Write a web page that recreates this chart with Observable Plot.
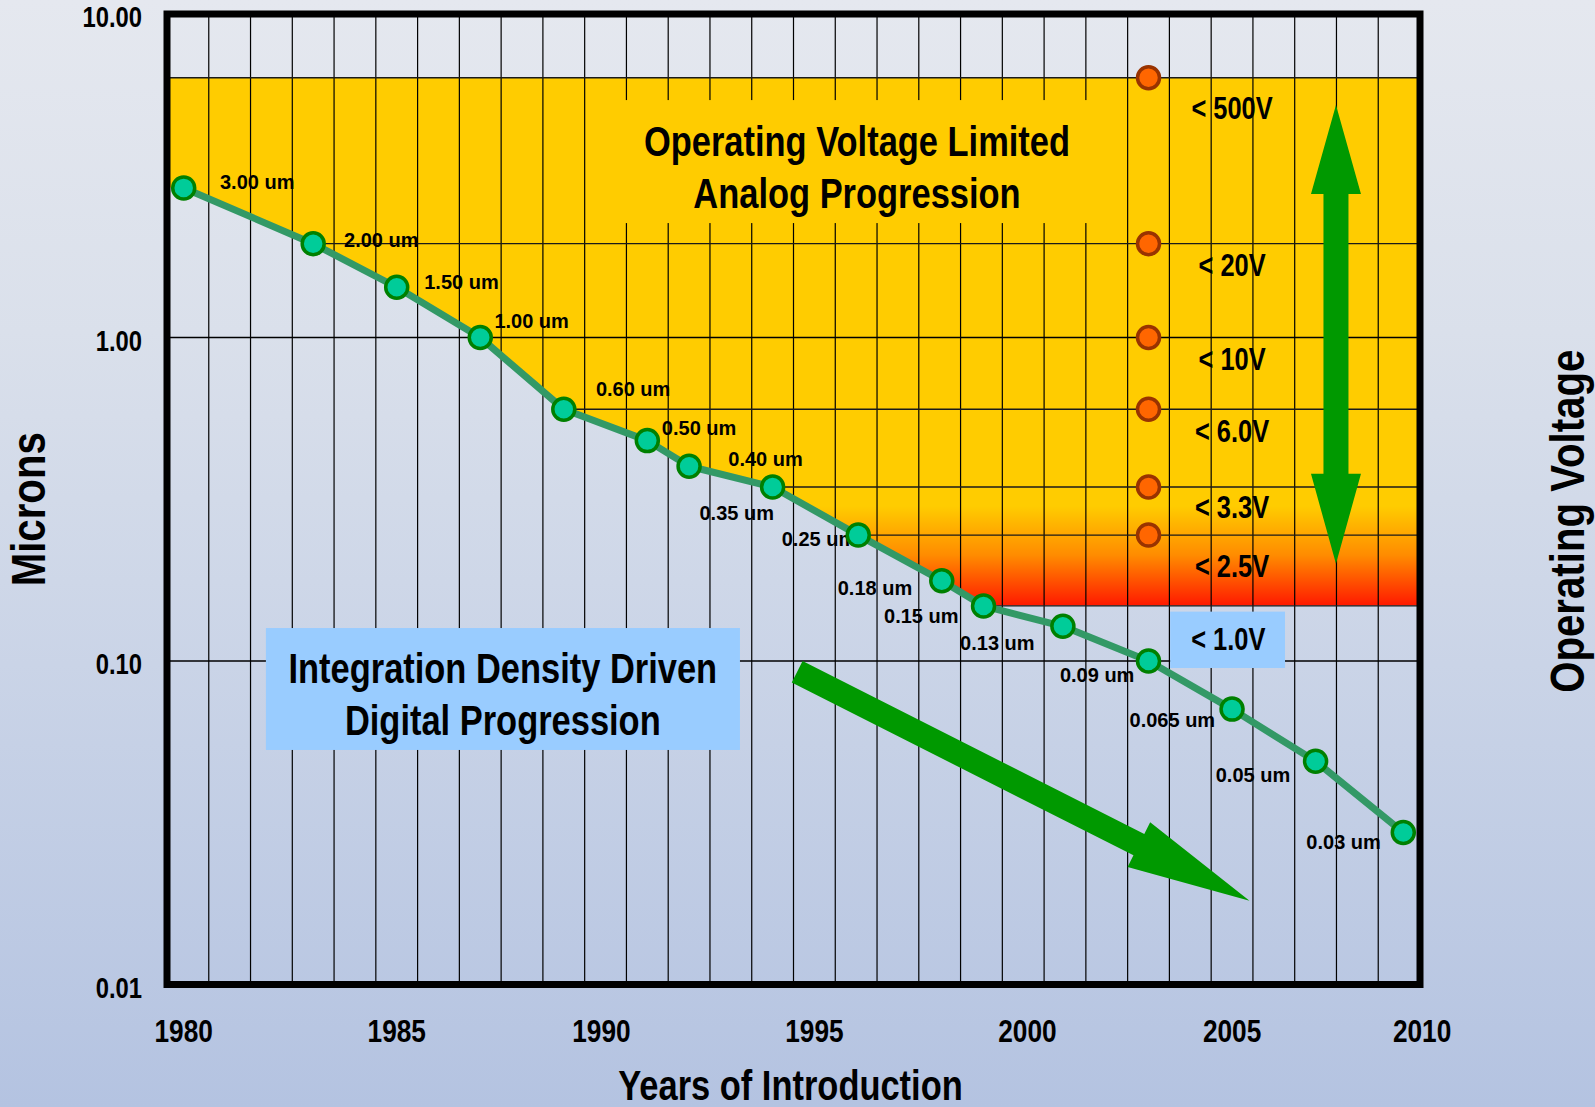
<!DOCTYPE html>
<html>
<head>
<meta charset="utf-8">
<script src="https://cdn.jsdelivr.net/npm/d3@7"></script>
<script src="https://cdn.jsdelivr.net/npm/@observablehq/plot@0.6"></script>
<style>
  html, body { margin: 0; padding: 0; }
  body {
    width: 1595px; height: 1107px; overflow: hidden;
    background: linear-gradient(180deg, #e5e8ef 0%, #dae0eb 30%, #cad4e7 60%, #b4c3e1 100%);
  }
  #chart svg { display: block; }
</style>
</head>
<body>
<div id="chart"></div>
<script>
// ---------------- data ----------------
const nodeYears   = [1980.4, 1983.5, 1985.5, 1987.5, 1989.5, 1991.5, 1992.5, 1994.5, 1996.55, 1998.55, 1999.55, 2001.45, 2003.5, 2005.5, 2007.5, 2009.6];
const nodeMicrons = [2.9, 1.95, 1.43, 1.0, 0.6, 0.48, 0.40, 0.345, 0.245, 0.177, 0.148, 0.128, 0.100, 0.071, 0.049, 0.0295];

const labelText    = ["3.00 um","2.00 um","1.50 um","1.00 um","0.60 um","0.50 um","0.40 um","0.35 um","0.25 um","0.18 um","0.15 um","0.13 um","0.09 um","0.065 um","0.05 um","0.03 um"];
const labelYears   = [1982.16, 1985.13, 1987.05, 1988.73, 1991.16, 1992.74, 1994.33, 1993.64, 1995.61, 1996.95, 1998.06, 1999.88, 2002.27, 2004.07, 2006.0, 2008.17];
const labelMicrons = [3.02, 2.00, 1.48, 1.117, 0.689, 0.524, 0.42, 0.285, 0.2375, 0.168, 0.1375, 0.1133, 0.0902, 0.0654, 0.0443, 0.0275];

const voltageLevels      = [6.35, 1.95, 1.0, 0.6, 0.345, 0.245];   // orange dots / band limits
const voltageFloor       = 0.148;                                   // bottom of the red band
const voltageDotYear     = 2003.5;
const voltageText        = ["< 500V", "< 20V", "< 10V", "< 6.0V", "< 3.3V", "< 2.5V"];
const voltageTextMicrons = [5.10, 1.66, 0.849, 0.51, 0.296, 0.195];
const voltageTextYear    = 2005.5;

const lowVoltageText    = "< 1.0V";
const lowVoltagePos     = [2005.41, 0.1157];
const lowVoltageBox     = {x1: 2004.03, x2: 2006.78, y1: 0.0948, y2: 0.1416};

const analogText   = "Operating Voltage Limited\nAnalog Progression";
const analogPos    = [1996.52, 3.41];
const analogBox    = {x1: 1990.5, x2: 2002.5, y1: 2.25, y2: 5.40};
const digitalText  = "Integration Density Driven\nDigital Progression";
const digitalPos   = [1988.04, 0.0801];
const digitalBox   = {x1: 1982.38, x2: 1993.73, y1: 0.0529, y2: 0.126};

const digitalArrowFrom = [1995.1, 0.0923];
const digitalArrowTo   = [2005.93, 0.0181];
const voltageArrowYear = 2008.0;
const voltageArrowEnds = [5.21, 0.199];
const gradientMicrons  = [0.30, 0.212, 0.148];   // yellow -> orange -> red

const xDomain = [1980, 2010];
const yDomain = [0.01, 10];
const gridYears = d3.range(1981, 2010);
const majorGrid = [0.1, 1];

const yTicks = [0.01, 0.1, 1, 10];
const yTickLabels = ["0.01", "0.10", "1.00", "10.00"];
const xTickLabels = ["1980", "1985", "1990", "1995", "2000", "2005", "2010"];
const xTickLabelYears = [1980.4, 1985.5, 1990.4, 1995.5, 2000.6, 2005.5, 2010.05];

const xTitle = "Years of Introduction";
const yTitle = "Microns";
const y2Title = "Operating Voltage";

// ---------------- derived tables ----------------
const nodes = nodeYears.map((year, i) => ({year, um: nodeMicrons[i]}));
const bandEdge = [{year: xDomain[0], um: nodeMicrons[0]}, ...nodes.filter(d => d.um >= voltageFloor), {year: xDomain[1], um: voltageFloor}];
const labels = labelText.map((t, i) => ({t, year: labelYears[i], um: labelMicrons[i]}));
const levelRules = [...voltageLevels, voltageFloor].map(um => {
  const i = nodeMicrons.indexOf(um);
  return {um, start: i >= 0 ? nodeYears[i] : xDomain[0]};
}).filter(d => d.um !== 1);
const vLabels = voltageText.map((t, i) => ({t, um: voltageTextMicrons[i]}));

// ---------------- styles ----------------
// "NarrowSqueeze" is a marker: those texts are drawn in Liberation Sans Bold, then condensed to 82% (Arial Narrow proportions)
const NARROW = "NarrowSqueeze,'Liberation Sans',Arial,sans-serif";
const REGULAR = "'Liberation Sans',Arial,sans-serif";
const NARROW_FACTOR = 0.82;
const YELLOW = "#FFCC00", BLUE = "#99CCFF", ARROW = "#009900";
const T = {fontFamily: NARROW, fontWeight: "bold", fill: "black", textAnchor: "middle", lineAnchor: "middle"};

function arrowPath(a, b, o) {
  const dx = b[0] - a[0], dy = b[1] - a[1], len = Math.hypot(dx, dy);
  const ux = dx / len, uy = dy / len, nx = -uy, ny = ux;
  const P = (p, along, perp) => [p[0] + ux * along + nx * perp, p[1] + uy * along + ny * perp];
  let pts;
  if (o.double) {
    pts = [a, P(a, o.head1, o.headHalf), P(a, o.head1, o.shaftHalf), P(b, -o.head2, o.shaftHalf), P(b, -o.head2, o.headHalf), b,
           P(b, -o.head2, -o.headHalf), P(b, -o.head2, -o.shaftHalf), P(a, o.head1, -o.shaftHalf), P(a, o.head1, -o.headHalf)];
  } else {
    pts = [P(a, 0, o.shaftHalf), P(b, -o.head2, o.shaftHalf), P(b, -o.head2, o.headHalf), b,
           P(b, -o.head2, -o.headHalf), P(b, -o.head2, -o.shaftHalf), P(a, 0, -o.shaftHalf)];
  }
  return "M" + pts.map(p => p[0].toFixed(2) + "," + p[1].toFixed(2)).join("L") + "Z";
}

const gradientMark = (index, scales) => {
  const defs = d3.create("svg:defs");
  const y = scales && typeof scales.y === "function" ? scales.y : null;
  const lg = defs.append("linearGradient").attr("id", "voltGrad").attr("x1", 0).attr("x2", 0);
  if (y) {
    lg.attr("gradientUnits", "userSpaceOnUse").attr("y1", y(gradientMicrons[0])).attr("y2", y(gradientMicrons[2]));
    const mid = (y(gradientMicrons[1]) - y(gradientMicrons[0])) / (y(gradientMicrons[2]) - y(gradientMicrons[0]));
    lg.append("stop").attr("offset", 0).attr("stop-color", "#FFCC00");
    lg.append("stop").attr("offset", mid).attr("stop-color", "#FF8C00");
    lg.append("stop").attr("offset", 1).attr("stop-color", "#FF1A00");
  } else {
    const L = Math.log10, top = L(voltageLevels[0]), bot = L(voltageFloor);
    const off = v => (top - L(v)) / (top - bot);
    lg.attr("y1", 0).attr("y2", 1);
    lg.append("stop").attr("offset", off(gradientMicrons[0])).attr("stop-color", "#FFCC00");
    lg.append("stop").attr("offset", off(gradientMicrons[1])).attr("stop-color", "#FF8C00");
    lg.append("stop").attr("offset", 1).attr("stop-color", "#FF1A00");
  }
  return defs.node();
};

const arrowMark = (index, scales) => {
  const g = d3.create("svg:g").attr("fill", ARROW);
  const X = scales.x, Y = scales.y;
  g.append("path").attr("d", arrowPath(
    [X(digitalArrowFrom[0]), Y(digitalArrowFrom[1])],
    [X(digitalArrowTo[0]), Y(digitalArrowTo[1])],
    {head2: 124, headHalf: 25, shaftHalf: 12}));
  g.append("path").attr("d", arrowPath(
    [X(voltageArrowYear), Y(voltageArrowEnds[0])],
    [X(voltageArrowYear), Y(voltageArrowEnds[1])],
    {double: true, head1: 89, head2: 90, headHalf: 25, shaftHalf: 12.5}));
  return g.node();
};

const chart = Plot.plot({
  width: 1595,
  height: 1107,
  marginLeft: 166.5,
  marginRight: 175.5,
  marginTop: 13.5,
  marginBottom: 123,
  style: {background: "none", overflow: "visible"},
  x: {domain: xDomain, axis: null},
  y: {type: "log", domain: yDomain, axis: null},
  marks: [
    gradientMark,
    // analog region (yellow -> red)
    Plot.areaY(bandEdge, {x: "year", y1: "um", y2: () => voltageLevels[0], fill: "url(#voltGrad)", curve: "linear"}),
    // grid
    Plot.ruleX(gridYears, {stroke: "black", strokeWidth: 1.2}),
    Plot.ruleY(majorGrid, {stroke: "black", strokeWidth: 1.4}),
    Plot.ruleY(levelRules, {y: "um", x1: "start", x2: () => xDomain[1], stroke: "#1a1a1a", strokeWidth: 1.4}),
    // boxes
    Plot.rect([analogBox], {x1: "x1", x2: "x2", y1: "y1", y2: "y2", fill: YELLOW}),
    Plot.rect([digitalBox], {x1: "x1", x2: "x2", y1: "y1", y2: "y2", fill: BLUE}),
    Plot.rect([lowVoltageBox], {x1: "x1", x2: "x2", y1: "y1", y2: "y2", fill: BLUE}),
    // arrows
    arrowMark,
    // technology node curve
    Plot.line(nodes, {x: "year", y: "um", stroke: "#339966", strokeWidth: 7, curve: "linear"}),
    Plot.text(labels, {x: "year", y: "um", text: "t", fontFamily: REGULAR, fontWeight: "bold", fontSize: 20, fill: "black"}),
    Plot.dot(nodes, {x: "year", y: "um", r: 11, fill: "#00CC99", stroke: "#008000", strokeWidth: 3.5}),
    // voltage markers
    Plot.dot(voltageLevels, {x: () => voltageDotYear, y: d => d, r: 11, fill: "#FF6600", stroke: "#993300", strokeWidth: 3.5}),
    Plot.text(vLabels, {...T, x: () => voltageTextYear, y: "um", text: "t", fontSize: 31}),
    Plot.text([lowVoltageText], {...T, x: () => lowVoltagePos[0], y: () => lowVoltagePos[1], fontSize: 31}),
    // box texts
    Plot.text([analogText], {...T, x: () => analogPos[0], y: () => analogPos[1], fontSize: 42, lineHeight: 1.23}),
    Plot.text([digitalText], {...T, x: () => digitalPos[0], y: () => digitalPos[1], fontSize: 42, lineHeight: 1.23}),
    // frame
    Plot.frame({stroke: "black", strokeWidth: 7}),
    // axes
    Plot.text(yTicks, {...T, y: d => d, text: (d, i) => yTickLabels[i], frameAnchor: "left", textAnchor: "end", dx: -25, dy: 4, fontSize: 29}),
    Plot.text(xTickLabels, {...T, x: (d, i) => xTickLabelYears[i], frameAnchor: "bottom", dy: 47, fontSize: 32}),
    Plot.text([xTitle], {...T, frameAnchor: "bottom", dx: -3, dy: 102, fontSize: 42}),
    Plot.text([yTitle], {...T, frameAnchor: "left", rotate: -90, dx: -138, dy: 10, fontSize: 49}),
    Plot.text([y2Title], {...T, frameAnchor: "right", rotate: -90, dx: 148.5, dy: 22, fontSize: 49})
  ]
});

document.getElementById("chart").appendChild(chart);

// condense the "narrow" texts to Arial-Narrow-like proportions
function condense() {
  chart.querySelectorAll('[font-family*="NarrowSqueeze"]').forEach(node => {
    const texts = node.tagName.toLowerCase() === "text" ? [node] : Array.from(node.querySelectorAll("text"));
    texts.forEach(t => {
      const spans = t.querySelectorAll("tspan");
      const targets = spans.length ? Array.from(spans) : [t];
      targets.forEach(el => {
        const w = el.getComputedTextLength();
        if (w > 0) {
          el.setAttribute("textLength", (w * NARROW_FACTOR).toFixed(2));
          el.setAttribute("lengthAdjust", "spacingAndGlyphs");
        }
      });
    });
  });
}
condense();
</script>
</body>
</html>
